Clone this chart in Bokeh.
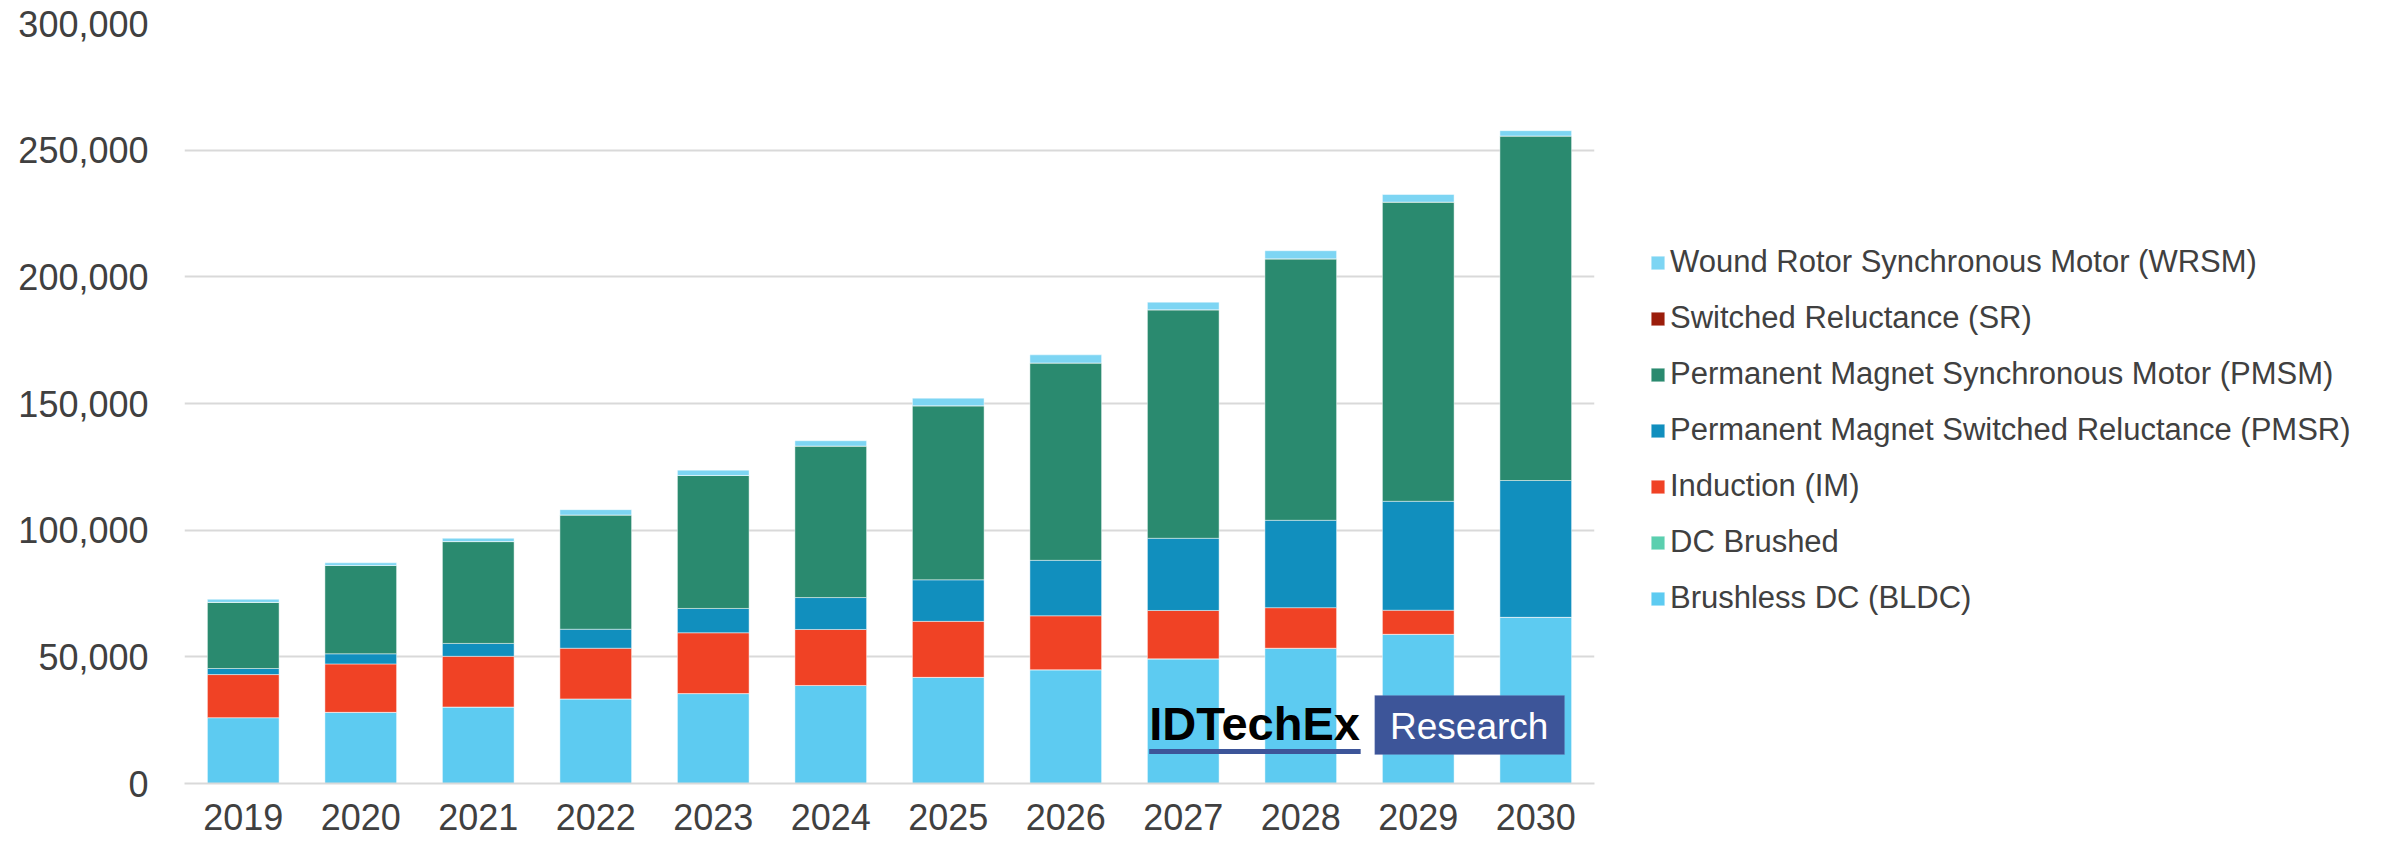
from bokeh.plotting import figure
from bokeh.models import (ColumnDataSource, Range1d, FactorRange, Legend, LegendItem,
                          Label, BoxAnnotation, NumeralTickFormatter, FixedTicker)
from bokeh.embed import file_html
from bokeh.resources import INLINE

# ---------------- data ----------------
years = ["2019", "2020", "2021", "2022", "2023", "2024", "2025", "2026", "2027", "2028", "2029", "2030"]
bldc = [26000, 28100, 30200, 33400, 35500, 38700, 41900, 44900, 49200, 53400, 58900, 65600]
dc_brushed = [0, 0, 0, 0, 0, 0, 0, 0, 0, 0, 0, 0]
induction = [17000, 19100, 20000, 20000, 24000, 22100, 22100, 21300, 19100, 16000, 9500, 0]
pmsr = [2400, 4000, 5100, 7500, 9600, 12600, 16400, 21900, 28500, 34500, 43000, 54000]
pmsm = [26100, 34900, 40200, 45100, 52500, 59800, 68700, 77900, 90200, 103200, 118100, 136000]
sr = [0, 0, 0, 0, 0, 0, 0, 0, 0, 0, 0, 0]
wrsm = [1200, 1000, 1300, 2100, 2100, 2100, 3000, 3200, 3000, 3200, 3000, 2100]

series_keys = ["bldc", "dc", "im", "pmsr", "pmsm", "sr", "wrsm"]
series_names = ["Brushless DC (BLDC)", "DC Brushed", "Induction (IM)",
                "Permanent Magnet Switched Reluctance (PMSR)",
                "Permanent Magnet Synchronous Motor (PMSM)",
                "Switched Reluctance (SR)", "Wound Rotor Synchronous Motor (WRSM)"]
series_colors = ["#5DCBF1", "#5BCFAF", "#F04225", "#118FBE", "#2A8A6F", "#9B1D0B", "#7DD5F3"]
y_ticks = [0, 50000, 100000, 150000, 200000, 250000, 300000]

source = ColumnDataSource(dict(year=years, bldc=bldc, dc=dc_brushed, im=induction,
                               pmsr=pmsr, pmsm=pmsm, sr=sr, wrsm=wrsm))

TEXT = "#404040"
GRID = "#D9D9D9"
FONT = "Liberation Sans"

p = figure(x_range=FactorRange(*years), y_range=Range1d(0, 300000),
           frame_width=1410, frame_height=760,
           min_border_left=184, min_border_top=23, min_border_bottom=62, min_border_right=803,
           output_backend="svg", toolbar_location=None, background_fill_color="white",
           border_fill_color="white")
p.outline_line_color = None

renderers = p.vbar_stack(series_keys, x="year", width=0.61, color=series_colors, source=source,
                         line_color="white", line_alpha=0.45, line_width=1)

# axes
p.yaxis.ticker = FixedTicker(ticks=y_ticks)
p.yaxis.formatter = NumeralTickFormatter(format="0,0")
p.yaxis.axis_line_color = None
p.yaxis.major_tick_line_color = None
p.yaxis.minor_tick_line_color = None
p.yaxis.major_tick_out = 0
p.yaxis.major_label_standoff = 36
p.yaxis.major_label_text_font_size = "36px"
p.yaxis.major_label_text_color = TEXT
p.yaxis.major_label_text_font = FONT

p.xaxis.axis_line_color = GRID
p.xaxis.axis_line_width = 2
p.xaxis.major_tick_line_color = None
p.xaxis.minor_tick_line_color = None
p.xaxis.major_tick_out = 0
p.xaxis.major_label_standoff = 20
p.xaxis.major_label_text_font_size = "36px"
p.xaxis.major_label_text_color = TEXT
p.xaxis.major_label_text_font = FONT

p.xgrid.grid_line_color = None
p.ygrid.grid_line_color = GRID
p.ygrid.grid_line_width = 2

# legend (top to bottom = reverse stack order)
items = [LegendItem(label=series_names[i], renderers=[renderers[i]]) for i in range(6, -1, -1)]
legend = Legend(items=items, location=(55, 165), orientation="vertical",
                glyph_width=17, glyph_height=17, label_standoff=4, label_height=40,
                spacing=16, padding=0, margin=0, border_line_color=None,
                background_fill_alpha=0, label_text_font_size="31px",
                label_text_font=FONT, label_text_color=TEXT)
p.add_layout(legend, "right")

# IDTechEx Research logo (positioned in data space of the chart)
LOGO_BLUE = "#3D5599"
p.add_layout(BoxAnnotation(left=8.21, right=10.01, bottom=11650, top=13600,
                           fill_color=LOGO_BLUE, fill_alpha=1, line_color=None))
p.add_layout(BoxAnnotation(left=10.13, right=11.745, bottom=11450, top=34740,
                           fill_color=LOGO_BLUE, fill_alpha=1, line_color="#6F84B8",
                           line_width=1))
p.add_layout(Label(x=8.21, y=23800, text="IDTechEx", text_font_size="47px",
                   text_font_style="bold", text_color="black", text_font=FONT,
                   text_baseline="middle", text_align="left"))
p.add_layout(Label(x=10.26, y=22500, text="Research", text_font_size="37px",
                   text_color="white", text_font=FONT, text_baseline="middle",
                   text_align="left"))

open("out.html", "w").write(file_html(p, INLINE))
